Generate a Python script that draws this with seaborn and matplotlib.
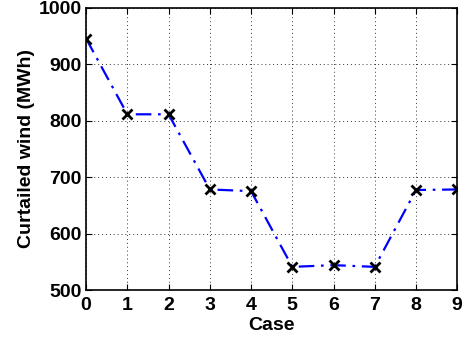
import numpy as np
import matplotlib
matplotlib.use("Agg")
import matplotlib.pyplot as plt
import seaborn as sns

cases = [0, 1, 2, 3, 4, 5, 6, 7, 8, 9]
curtailed = [945, 811, 811, 678, 675, 541, 544, 541, 677, 678]

sns.set_theme(style="white")
plt.rcParams['font.family'] = ['Liberation Sans', 'DejaVu Sans']
plt.rcParams['font.weight'] = 'bold'

fig = plt.figure(figsize=(4.68, 3.42), dpi=100)
ax = fig.add_axes([0.184, 0.152, 0.793, 0.826])

sns.lineplot(x=cases, y=curtailed, ax=ax, color='blue',
             linewidth=1.6, marker='x', markersize=7, markeredgewidth=2,
             markeredgecolor='black', markerfacecolor='black',
             dashes=False)
ax.lines[0].set_dashes([7, 3, 1.2, 3])

ax.set_xlim(0, 9)
ax.set_ylim(500, 1000)
ax.set_xticks(range(0, 10))
ax.set_yticks([500, 600, 700, 800, 900, 1000])
ax.grid(True, color='black', linewidth=0.7, dashes=(1, 3), alpha=0.8)
ax.tick_params(direction='in', length=4, labelsize=14, width=0.8,
               top=True, right=True, bottom=True, left=True, colors='black',
               labelcolor='black')
ax.tick_params(axis='x', pad=5)
ax.tick_params(axis='y', pad=3)
for lab in ax.get_xticklabels() + ax.get_yticklabels():
    lab.set_fontweight('bold')
for s in ax.spines.values():
    s.set_color('black')
    s.set_linewidth(1.2)

ax.set_xlabel("Case", fontsize=14, fontweight='bold', labelpad=2, color='black')
ax.set_ylabel("Curtailed wind (MWh)", fontsize=14, fontweight='bold', labelpad=3,
              color='black')

fig.savefig("out.png", dpi=100)
